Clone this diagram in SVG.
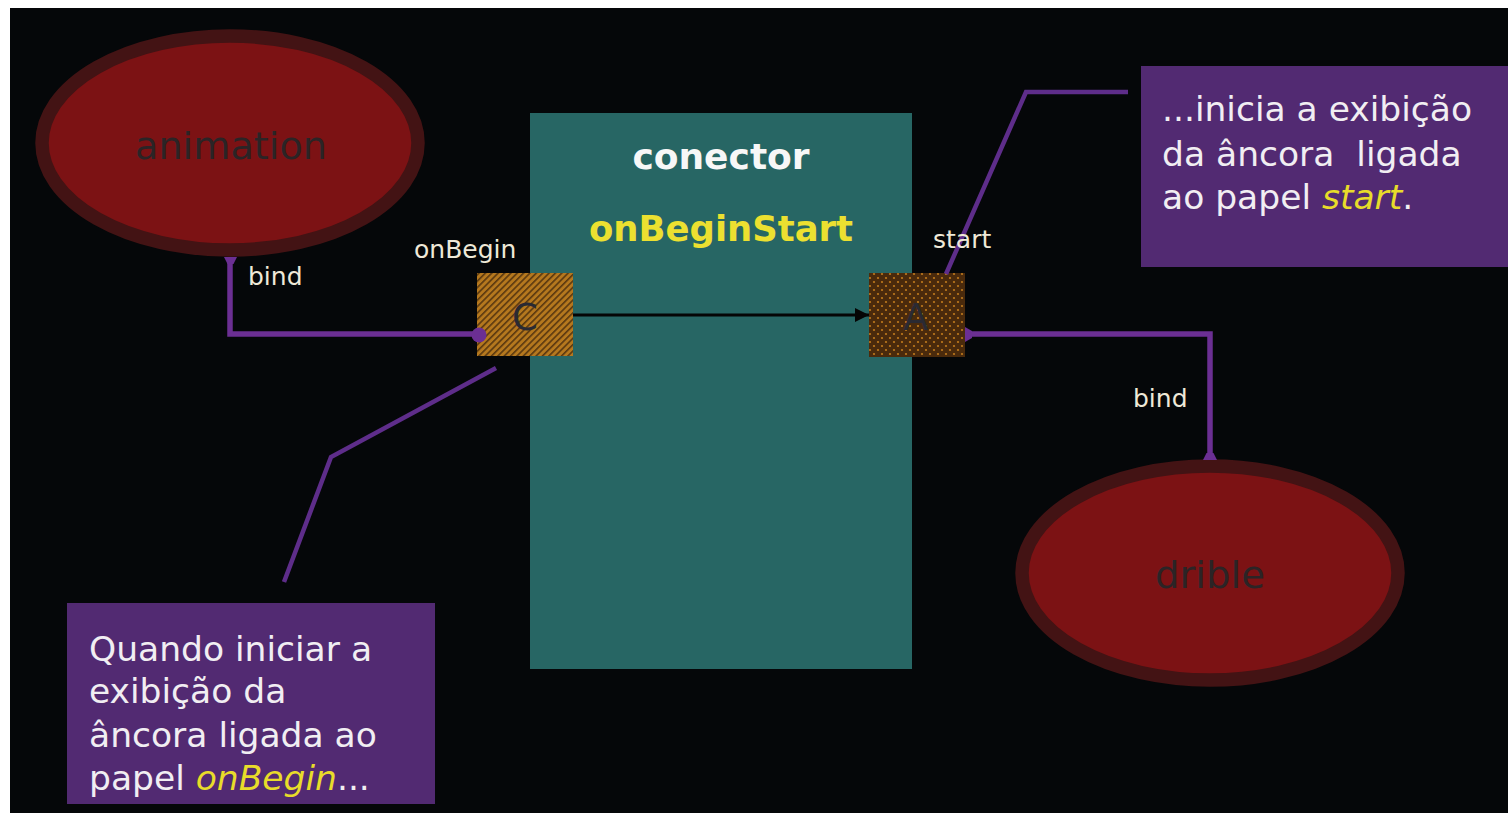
<svg xmlns="http://www.w3.org/2000/svg" width="1508" height="815" viewBox="0 0 1508 815">
  <style>
    .media { fill: #7c1214; stroke: #431314; stroke-width: 13.5; }
    .media-label { font-family: "DejaVu Sans", sans-serif; font-size: 38px; fill: #2b2426; text-anchor: middle; }
    .role-label { font-family: "DejaVu Sans", sans-serif; font-size: 25px; fill: #efe9d8; }
    .port-letter { font-family: "DejaVu Sans", sans-serif; font-size: 37px; fill: #2a2a33; text-anchor: middle; }
    .title { font-family: "DejaVu Sans", sans-serif; font-weight: bold; font-size: 36px; text-anchor: middle; }
    .note { fill: #522a72; }
    .note-text { font-family: "DejaVu Sans", sans-serif; font-size: 34.5px; fill: #f1eef2; }
    .hl { fill: #e8dc2a; font-style: italic; }
    .bind { fill: none; stroke: #6b2f93; stroke-width: 5.5; }
    .leader { fill: none; stroke: #5e2d8a; stroke-width: 4.5; }
    .tee { fill: #6b2f93; }
  </style>
  <defs>
    <pattern id="hatch" width="4.5" height="4.5" patternUnits="userSpaceOnUse" patternTransform="rotate(-45)">
      <rect width="4.5" height="4.5" fill="#b5781e"/>
      <rect width="4.5" height="1.6" fill="#5a3810"/>
    </pattern>
    <pattern id="dots" width="8" height="8" patternUnits="userSpaceOnUse">
      <rect width="8" height="8" fill="#4a2a0c"/>
      <circle cx="2" cy="2" r="1.1" fill="#c07a1c"/>
      <circle cx="6" cy="6" r="1.1" fill="#c07a1c"/>
    </pattern>
    <marker id="arrow" markerWidth="14" markerHeight="14" refX="14" refY="7" orient="auto" markerUnits="userSpaceOnUse">
      <path d="M0,0 L14,7 L0,14 z" fill="#050505"/>
    </marker>
  </defs>

  <!-- page and canvas -->
  <rect width="1508" height="815" fill="#ffffff"/>
  <rect x="10" y="8" width="1498" height="805" fill="#050709"/>

  <!-- connector body -->
  <g id="conector">
    <rect x="530" y="113" width="382" height="556" fill="#276664"/>
    <text class="title" x="721" y="169" fill="#f7f7f7">conector</text>
    <text class="title" x="721" y="241" fill="#ece030" textLength="264" lengthAdjust="spacingAndGlyphs">onBeginStart</text>
  </g>

  <g id="animation">
    <ellipse class="media" cx="230" cy="143" rx="188" ry="107"/>
    <text class="media-label" x="231" y="159" textLength="192" lengthAdjust="spacingAndGlyphs">animation</text>
  </g>

  <g id="drible">
    <ellipse class="media" cx="1210" cy="573" rx="188" ry="107"/>
    <text class="media-label" x="1210" y="588" textLength="110" lengthAdjust="spacingAndGlyphs">drible</text>
  </g>

  <g id="port-onBegin">
    <rect x="477" y="273" width="96" height="83" fill="url(#hatch)"/>
    <text class="port-letter" x="525" y="330">C</text>
  </g>

  <g id="port-start">
    <rect x="869" y="273" width="96" height="84" fill="url(#dots)"/>
    <text class="port-letter" x="916" y="330">A</text>
  </g>

  <!-- connectors -->
  <g id="connectors">
    <path class="bind" d="M230,258 V334 H478"/>
    <circle class="tee" cx="479" cy="335" r="7.5"/>
    <path class="tee" d="M224,257 H237 L233.5,264 H227.5 z"/>
    <path class="bind" d="M966,334 H1210 V458"/>
    <path class="tee" d="M965,327 V342 L972,338 V331 z"/>
    <path class="tee" d="M1203,460 H1217 L1213.5,453 H1206.5 z"/>
    <path class="leader" d="M1128,92 H1026 L946,274"/>
    <path class="leader" d="M496,368 L331,457 L284,582"/>
    <line x1="573" y1="315" x2="869" y2="315" stroke="#050505" stroke-width="3" marker-end="url(#arrow)"/>
  </g>

  <g id="role-labels">
    <text class="role-label" x="248" y="285">bind</text>
    <text class="role-label" x="414" y="258">onBegin</text>
    <text class="role-label" x="933" y="248">start</text>
    <text class="role-label" x="1133" y="407">bind</text>
  </g>

  <g id="note-start">
    <rect class="note" x="1141" y="66" width="367" height="201"/>
    <text class="note-text" x="1162" y="121">...inicia a exibição</text>
    <text class="note-text" x="1162" y="166">da âncora&#160; ligada</text>
    <text class="note-text" x="1162" y="209">ao papel <tspan class="hl">start</tspan>.</text>
  </g>

  <g id="note-onBegin">
    <rect class="note" x="67" y="603" width="368" height="201"/>
    <text class="note-text" x="89" y="661">Quando iniciar a</text>
    <text class="note-text" x="89" y="703">exibição da</text>
    <text class="note-text" x="89" y="747">âncora ligada ao</text>
    <text class="note-text" x="89" y="790">papel <tspan class="hl">onBegin</tspan>...</text>
  </g>
</svg>
